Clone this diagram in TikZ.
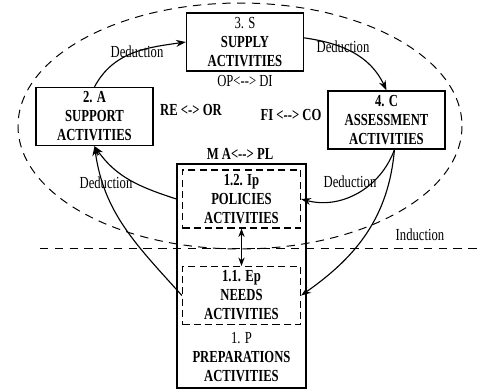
\documentclass[tikz,border=0pt]{standalone}
\usepackage{fontspec}
\setmainfont[FakeStretch=0.75]{Liberation Serif}
\usetikzlibrary{arrows.meta}

\begin{document}
\begin{tikzpicture}[x=0.025cm, y=-0.025cm,
  box/.style={draw, line width=0.9pt, minimum width=2.925cm,
              minimum height=1.45cm, inner sep=0pt,
              align=center, font=\fontsize{12}{13.5}\selectfont},
  inbox/.style={box, dash pattern=on 5pt off 3pt, line width=0.8pt},
  arr/.style={-{Stealth[length=7pt,width=5pt]}, line width=0.8pt},
  lbl/.style={font=\fontsize{12}{13}\selectfont},
  blbl/.style={font=\bfseries\fontsize{12}{13}\selectfont},
  dsh/.style={dash pattern=on 6pt off 4.5pt, line width=0.7pt}
]
\useasboundingbox (0,0) rectangle (482,391);
% dashed cycle and boundary line
\draw[dsh] (240,126) ellipse [x radius=222, y radius=123];
\draw[dsh] (40,248) -- (482,248);
% activities
\node[box] (sup) at (245,42)   {3. S\\\textbf{SUPPLY}\\\textbf{ACTIVITIES}};
\node[box] (spt) at (94.5,116.5) {\textbf{2. A}\\\textbf{SUPPORT}\\\textbf{ACTIVITIES}};
\node[box] (asm) at (386.5,120) {\textbf{4. C}\\\textbf{ASSESSMENT}\\\textbf{ACTIVITIES}};
\node[box, minimum width=3.225cm, minimum height=5.6cm] (prep) at (241.5,276) {};
\node[inbox, minimum width=2.95cm] (pol)  at (241.5,199)   {\textbf{1.2. Ip}\\\textbf{POLICIES}\\\textbf{ACTIVITIES}};
\node[inbox, minimum width=2.95cm] (need) at (241.5,295.5) {\textbf{1.1. Ep}\\\textbf{NEEDS}\\\textbf{ACTIVITIES}};
\node[align=center, font=\fontsize{12}{13.5}\selectfont] (prepx) at (241.5,357)
  {1. P\\\textbf{PREPARATIONS}\\\textbf{ACTIVITIES}};
% pairs
\node[lbl]  (opdi) at (245,81)  {OP<{-}{-}> DI};
\node[blbl] (reor) at (191,110) {RE <-> OR};
\node[blbl] (fico) at (291,115) {FI <{-}{-}> CO};
\node[blbl] (mapl) at (240,154) {M A<{-}{-}> PL};
% reasoning
\node[lbl] (d1) at (137,52)  {Deduction};
\node[lbl] (d2) at (343,47)  {Deduction};
\node[lbl] (d3) at (350,182) {Deduction};
\node[lbl] (d4) at (106,183) {Deduction};
\node[lbl] (ind) at (420,235) {Induction};
\draw[arr] (spt.north) to[out=62,in=188] (sup.west);
\draw[arr] (sup.4) to[out=-8,in=115] (asm.north);
\draw[arr] (asm.-75) to[out=-110,in=-15] (pol.east);
\draw[arr] (asm.-75) to[out=-95,in=35] (need.east);
\draw[arr] (prep.west |- pol.west) to[out=162,in=-55] (spt.south);
\draw[arr] (need.west) to[out=132,in=-82] (spt.south);
\draw[{Stealth[length=6pt,width=4.5pt]}-{Stealth[length=6pt,width=4.5pt]}, line width=0.8pt] (pol.south) -- (need.north);
\end{tikzpicture}
\end{document}
